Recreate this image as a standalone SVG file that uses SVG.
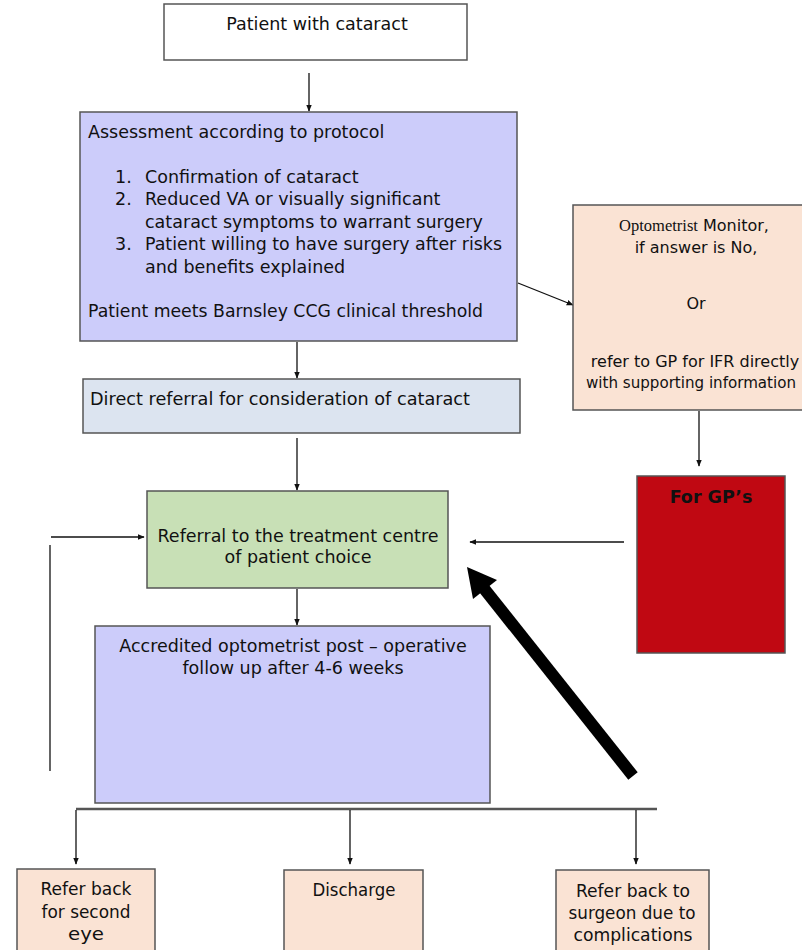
<svg xmlns="http://www.w3.org/2000/svg" width="802" height="950" viewBox="0 0 802 950">
<style>
.box{stroke:#555;stroke-width:1.5}
.t{font-family:"DejaVu Sans",sans-serif;font-size:17.5px;fill:#111}
.m{font-family:"DejaVu Sans",sans-serif;font-size:16px;fill:#111;text-anchor:middle}
.c{text-anchor:middle}
.n{font-family:"DejaVu Sans Condensed","DejaVu Sans",sans-serif;font-size:17px;fill:#111;text-anchor:middle}
.ln{stroke:#111;stroke-width:1.3;fill:none}
</style>
<defs>
<marker id="ah" viewBox="0 0 10 10" refX="9" refY="5" markerWidth="7" markerHeight="7" orient="auto" markerUnits="userSpaceOnUse">
<path d="M0,1 L10,5 L0,9 Z" fill="#111"/>
</marker>
</defs>
<rect width="802" height="950" fill="#fff"/>
<g id="connectors">
<line class="ln" x1="309" y1="73" x2="309" y2="111" marker-end="url(#ah)"/>
<line class="ln" x1="518" y1="283" x2="573" y2="305" marker-end="url(#ah)"/>
<line class="ln" x1="297" y1="342" x2="297" y2="378" marker-end="url(#ah)"/>
<line class="ln" x1="297" y1="438" x2="297" y2="490" marker-end="url(#ah)"/>
<line class="ln" x1="699" y1="411" x2="699" y2="466" marker-end="url(#ah)"/>
<line class="ln" x1="624" y1="542" x2="470" y2="542" marker-end="url(#ah)"/>
<line class="ln" x1="51" y1="537" x2="144" y2="537" marker-end="url(#ah)"/>
<line class="ln" x1="50" y1="545" x2="50" y2="771"/>
<line class="ln" x1="297" y1="589" x2="297" y2="625" marker-end="url(#ah)"/>
<g id="big-arrow">
<line x1="633" y1="776" x2="482" y2="586" stroke="#000" stroke-width="12"/>
<path d="M467,567 L497,580 L473,599 Z" fill="#000"/>
</g>
<line x1="76" y1="809" x2="657" y2="809" stroke="#555" stroke-width="2.5"/>
<line class="ln" x1="76" y1="810" x2="76" y2="864" marker-end="url(#ah)"/>
<line class="ln" x1="350" y1="810" x2="350" y2="864" marker-end="url(#ah)"/>
<line class="ln" x1="636" y1="810" x2="636" y2="864" marker-end="url(#ah)"/>
</g>
<g id="patient">
<rect class="box" x="164" y="4" width="303" height="56" fill="#fff"/>
<text class="t c" x="317" y="30">Patient with cataract</text>
</g>
<g id="assessment">
<rect class="box" x="80" y="112" width="437" height="229" fill="#ccccfa"/>
<text class="t" x="88" y="138">Assessment according to protocol</text>
<text class="t" x="115" y="183">1.</text>
<text class="t" x="145" y="183">Confirmation of cataract</text>
<text class="t" x="115" y="205">2.</text>
<text class="t" x="145" y="205">Reduced VA or visually significant</text>
<text class="t" x="145" y="228">cataract symptoms to warrant surgery</text>
<text class="t" x="115" y="250">3.</text>
<text class="t" x="145" y="250" textLength="357" lengthAdjust="spacingAndGlyphs">Patient willing to have surgery after risks</text>
<text class="t" x="145" y="273">and benefits explained</text>
<text class="t" x="88" y="317" textLength="395" lengthAdjust="spacingAndGlyphs">Patient meets Barnsley CCG clinical threshold</text>
</g>
<g id="monitor">
<rect class="box" x="573" y="205" width="240" height="205" fill="#fae3d4"/>
<text class="m" x="694" y="231"><tspan font-family="Liberation Serif,serif" font-size="16.5">Optometrist</tspan> Monitor,</text>
<text class="m" x="696" y="253">if answer is No,</text>
<text class="m" x="696" y="309">Or</text>
<text class="m" x="695" y="367">refer to GP for IFR directly</text>
<text class="m" x="691" y="388" textLength="210" lengthAdjust="spacingAndGlyphs">with supporting information</text>
</g>
<g id="direct">
<rect class="box" x="83" y="379" width="437" height="54" fill="#dce4f0"/>
<text class="t" x="90" y="405" textLength="380" lengthAdjust="spacingAndGlyphs">Direct referral for consideration of cataract</text>
</g>
<g id="referral">
<rect class="box" x="147" y="491" width="301" height="97" fill="#c8e0b6"/>
<text class="t c" x="298" y="542">Referral to the treatment centre</text>
<text class="t c" x="298" y="563">of patient choice</text>
</g>
<g id="gp">
<rect class="box" x="637" y="476" width="148" height="177" fill="#c00812"/>
<text class="t c" x="711" y="503" font-weight="bold" fill="#1a0000">For GP’s</text>
</g>
<g id="followup">
<rect class="box" x="95" y="626" width="395" height="177" fill="#ccccfa"/>
<text class="t c" x="293" y="652">Accredited optometrist post – operative</text>
<text class="t c" x="293" y="674">follow up after 4-6 weeks</text>
</g>
<g id="second-eye">
<rect class="box" x="17" y="869" width="138" height="90" fill="#fae3d4"/>
<text class="n" x="86" y="895" textLength="91" lengthAdjust="spacingAndGlyphs">Refer back</text>
<text class="n" x="86" y="918" textLength="89" lengthAdjust="spacingAndGlyphs">for second</text>
<text class="n" x="86" y="940" textLength="36" lengthAdjust="spacingAndGlyphs">eye</text>
</g>
<g id="discharge">
<rect class="box" x="284" y="870" width="139" height="90" fill="#fae3d4"/>
<text class="n" x="354" y="896" textLength="83" lengthAdjust="spacingAndGlyphs">Discharge</text>
</g>
<g id="complications">
<rect class="box" x="556" y="870" width="153" height="90" fill="#fae3d4"/>
<text class="n" x="633" y="897" textLength="114" lengthAdjust="spacingAndGlyphs">Refer back to</text>
<text class="n" x="632" y="919" textLength="127" lengthAdjust="spacingAndGlyphs">surgeon due to</text>
<text class="n" x="633" y="941" textLength="119" lengthAdjust="spacingAndGlyphs">complications</text>
</g>
</svg>
